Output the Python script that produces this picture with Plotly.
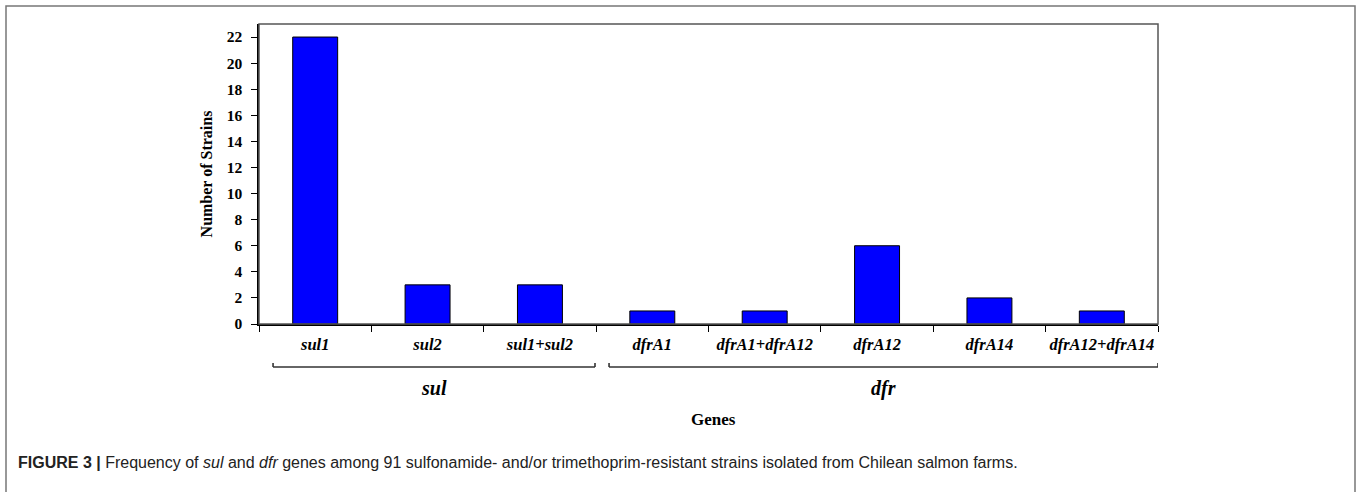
import plotly.graph_objects as go

categories = ["sul1", "sul2", "sul1+sul2", "dfrA1", "dfrA1+dfrA12", "dfrA12", "dfrA14", "dfrA12+dfrA14"]
counts = [22, 3, 3, 1, 1, 6, 2, 1]
groups = [("sul", 0, 2), ("dfr", 3, 7)]
y_ticks = list(range(0, 23, 2))

SERIF = "Liberation Serif"
SANS = "Liberation Sans"

fig = go.Figure()
fig.add_trace(go.Bar(
    x=list(range(len(categories))), y=counts, width=0.4,
    marker=dict(color="#0000FF", line=dict(color="black", width=1)),
))

W, H = 1357, 492
L, R, T, B = 259, 199, 24, 168
plot_h = H - T - B
plot_w = W - L - R

def py(pix):
    return (H - B - pix) / plot_h

def px(pix):
    return (pix - L) / plot_w

shapes = []
annotations = []
for name, i0, i1 in groups:
    xa = i0 - 0.5 + (0.125 if i0 == 0 else 0.115)
    xb = i1 + 0.5 - (0.01 if i1 < len(categories) - 1 else 0.0)
    yb = py(367)
    yt = py(363)
    shapes.append(dict(type="line", xref="x", yref="paper", x0=xa, x1=xb, y0=yb, y1=yb,
                       line=dict(color="#333", width=1.6)))
    for xe in (xa, xb):
        shapes.append(dict(type="line", xref="x", yref="paper", x0=xe, x1=xe, y0=yb, y1=yt,
                           line=dict(color="#333", width=1.6)))
    annotations.append(dict(xref="x", yref="paper", x=(xa + xb) / 2, y=py(388), yanchor="middle",
                            text=f"<b><i>{name}</i></b>", showarrow=False,
                            font=dict(family=SERIF, size=20, color="black")))

annotations.append(dict(xref="paper", yref="paper", x=px(713), y=py(419), yanchor="middle",
                        text="<b>Genes</b>", showarrow=False,
                        font=dict(family=SERIF, size=17, color="black")))
annotations.append(dict(xref="paper", yref="paper", x=px(16), y=py(462), yanchor="middle",
                        xanchor="left", text="<b>FIGURE 3 |</b> Frequency of <i>sul</i> and <i>dfr</i> genes among 91 sulfonamide- and/or trimethoprim-resistant strains isolated from Chilean salmon farms.",
                        showarrow=False, font=dict(family=SANS, size=16, color="#222")))

# plot area frame
shapes.append(dict(type="rect", xref="paper", yref="paper", x0=0, x1=1, y0=0, y1=1,
                   line=dict(color="#555", width=1.5)))
# outer frame
shapes.append(dict(type="rect", xref="paper", yref="paper",
                   x0=px(6), x1=px(1355), y0=py(510), y1=py(6),
                   line=dict(color="#777", width=1.5)))

fig.update_layout(
    width=W, height=H, margin=dict(l=L, r=R, t=T, b=B),
    plot_bgcolor="white", paper_bgcolor="white", showlegend=False,
    shapes=shapes, annotations=annotations,
)
fig.update_xaxes(
    tickmode="array", tickvals=list(range(len(categories))),
    ticktext=[f"<b><i>{c}</i></b>" for c in categories],
    range=[-0.5, len(categories) - 0.5],
    showline=True, linecolor="black", linewidth=1.5,
    ticks="", showgrid=False, zeroline=False,
    tickfont=dict(family=SERIF, size=16.5, color="black"),
    ticklabelstandoff=4,
)
fig.update_xaxes(minor=dict(tickmode="array", tickvals=[i - 0.5 for i in range(len(categories) + 1)],
                            ticks="outside", ticklen=6, tickcolor="black", tickwidth=1.2, showgrid=False))
fig.update_yaxes(
    range=[0, 23], tickmode="array", tickvals=y_ticks, ticktext=[f"<b>{v}</b>" for v in y_ticks],
    ticks="outside", ticklen=6, tickcolor="black", tickwidth=1.2,
    showline=True, linecolor="black", linewidth=1.5, showgrid=False, zeroline=False,
    tickfont=dict(family=SERIF, size=15.5, color="black"), ticklabelstandoff=6,
    title=dict(text="<b>Number of Strains</b>", font=dict(family=SERIF, size=16, color="black"), standoff=10),
)
fig.write_html("out.html", config={"displayModeBar": False},
               post_script="document.body.style.margin='0';")
